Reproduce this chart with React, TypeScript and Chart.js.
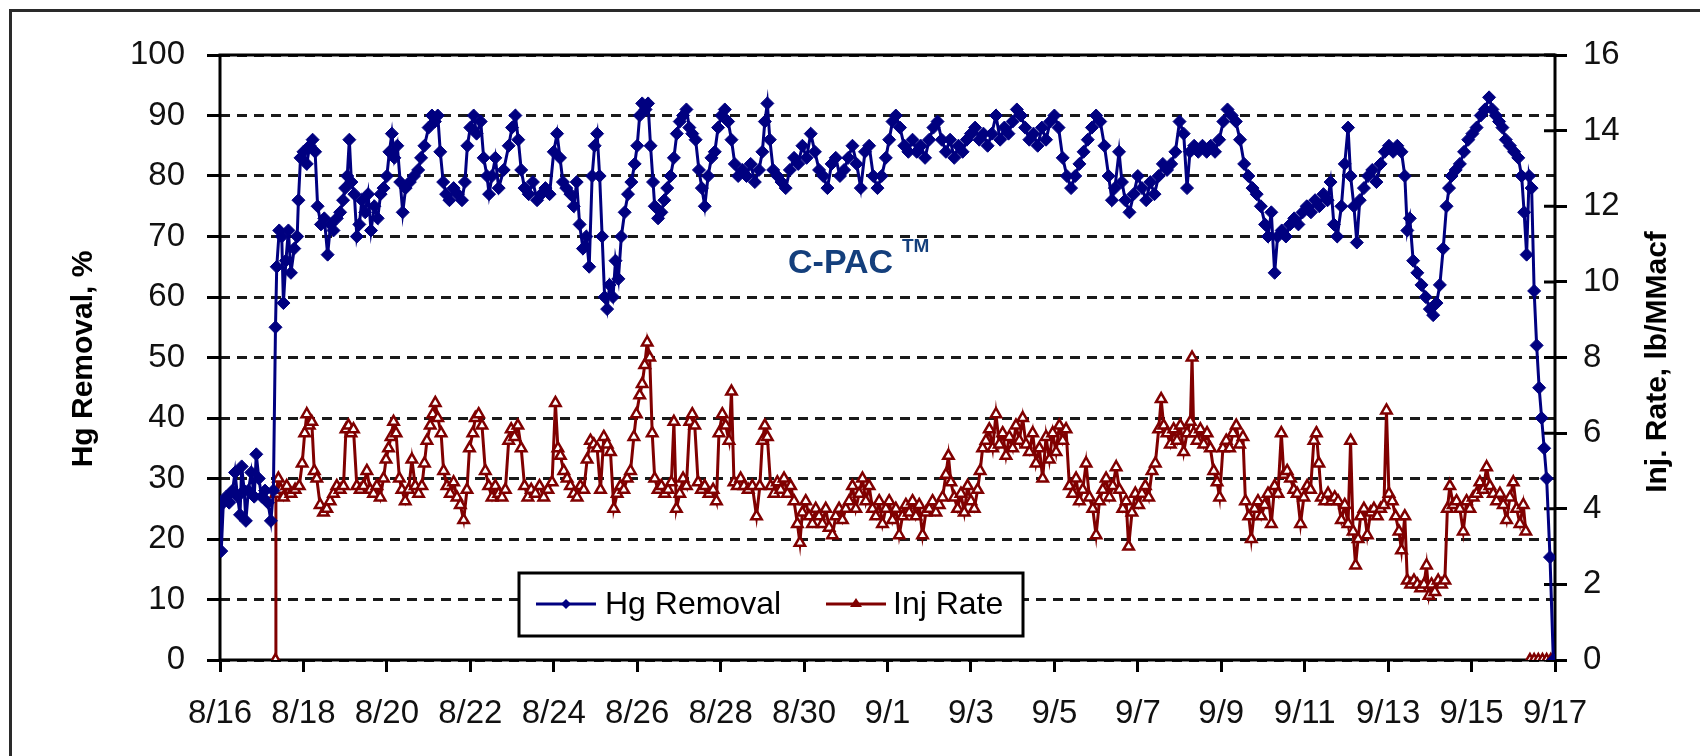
import React, { useEffect, useRef } from 'react';
import { Chart, registerables } from 'chart.js';

Chart.register(...registerables);

// x-axis tick labels (every 2 days from 8/16 to 9/17)
const dateLabels = ['8/16', '8/18', '8/20', '8/22', '8/24', '8/26', '8/28', '8/30', '9/1', '9/3', '9/5', '9/7', '9/9', '9/11', '9/13', '9/15', '9/17'];

// Hg Removal, % : [days since 8/16, value]
const hgRemoval: [number, number][] = [
  [0.00, 26], [0.03, 18], [0.08, 26], [0.15, 27], [0.22, 26], [0.30, 28], [0.36, 31], [0.42, 27], [0.48, 24], [0.52, 32],
  [0.58, 28], [0.62, 23], [0.68, 28], [0.75, 31], [0.82, 27], [0.87, 34], [0.93, 30], [1.00, 27], [1.08, 28], [1.15, 26],
  [1.22, 23], [1.28, 28], [1.33, 55], [1.36, 65], [1.42, 71], [1.48, 70], [1.52, 59], [1.58, 66], [1.64, 71], [1.70, 64],
  [1.78, 68], [1.85, 70], [1.88, 76], [1.93, 83], [2.00, 84], [2.08, 82], [2.15, 85], [2.22, 86], [2.28, 84], [2.34, 75],
  [2.42, 72], [2.50, 73], [2.58, 67], [2.65, 72], [2.72, 71], [2.80, 73], [2.88, 74], [2.95, 76], [3.00, 78], [3.05, 80],
  [3.10, 86], [3.15, 79], [3.22, 77], [3.28, 70], [3.34, 72], [3.40, 76], [3.48, 74], [3.55, 77], [3.62, 71], [3.70, 75],
  [3.78, 73], [3.85, 77], [3.92, 78], [4.00, 80], [4.06, 84], [4.12, 87], [4.18, 83], [4.25, 85], [4.32, 79], [4.38, 74],
  [4.45, 78], [4.55, 79], [4.65, 80], [4.75, 81], [4.82, 83], [4.90, 85], [5.00, 88], [5.08, 90], [5.15, 89], [5.22, 90],
  [5.28, 84], [5.35, 79], [5.42, 77], [5.50, 76], [5.60, 78], [5.70, 77], [5.80, 76], [5.87, 79], [5.93, 85], [6.00, 88],
  [6.08, 90], [6.15, 87], [6.25, 89], [6.32, 83], [6.40, 80], [6.45, 77], [6.52, 80], [6.60, 83], [6.68, 78], [6.80, 81],
  [6.92, 85], [7.00, 88], [7.08, 90], [7.15, 86], [7.22, 81], [7.30, 78], [7.40, 77], [7.50, 79], [7.60, 76], [7.70, 77],
  [7.80, 78], [7.90, 77], [8.00, 84], [8.08, 87], [8.15, 83], [8.22, 79], [8.30, 78], [8.40, 77], [8.48, 75], [8.55, 79],
  [8.62, 72], [8.70, 68], [8.78, 70], [8.85, 65], [8.92, 80], [8.98, 85], [9.04, 87], [9.10, 80], [9.16, 70], [9.22, 60],
  [9.28, 58], [9.34, 62], [9.42, 60], [9.48, 66], [9.55, 63], [9.62, 70], [9.70, 74], [9.78, 77], [9.86, 79], [9.94, 82],
  [10.00, 85], [10.06, 90], [10.12, 92], [10.20, 91], [10.26, 92], [10.32, 85], [10.38, 79], [10.42, 75], [10.50, 73], [10.58, 74],
  [10.65, 76], [10.72, 78], [10.80, 80], [10.88, 83], [10.95, 87], [11.02, 89], [11.10, 90], [11.18, 91], [11.25, 88], [11.32, 87],
  [11.40, 86], [11.48, 81], [11.55, 78], [11.62, 75], [11.70, 80], [11.78, 83], [11.86, 84], [11.94, 88], [12.02, 90], [12.10, 91],
  [12.18, 89], [12.26, 86], [12.34, 82], [12.42, 80], [12.52, 81], [12.62, 80], [12.72, 82], [12.82, 79], [12.92, 81], [13.00, 84],
  [13.06, 89], [13.12, 92], [13.18, 86], [13.26, 81], [13.36, 80], [13.46, 79], [13.56, 78], [13.66, 81], [13.76, 83], [13.86, 82],
  [13.96, 85], [14.06, 83], [14.16, 87], [14.26, 84], [14.36, 81], [14.46, 80], [14.56, 78], [14.66, 82], [14.76, 83], [14.86, 80],
  [14.96, 81], [15.06, 83], [15.16, 85], [15.26, 82], [15.36, 78], [15.46, 84], [15.56, 85], [15.66, 80], [15.76, 78], [15.86, 80],
  [15.96, 83], [16.04, 86], [16.12, 89], [16.20, 90], [16.30, 88], [16.40, 85], [16.50, 84], [16.60, 86], [16.70, 84], [16.80, 85],
  [16.90, 83], [17.00, 86], [17.10, 88], [17.20, 89], [17.30, 86], [17.40, 84], [17.50, 86], [17.60, 83], [17.70, 85], [17.80, 84],
  [17.90, 86], [18.00, 87], [18.10, 88], [18.20, 86], [18.30, 87], [18.40, 85], [18.50, 87], [18.60, 90], [18.70, 86], [18.80, 88],
  [18.90, 87], [19.00, 89], [19.10, 91], [19.20, 90], [19.30, 88], [19.40, 86], [19.50, 87], [19.60, 85], [19.70, 88], [19.80, 86],
  [19.90, 89], [20.00, 90], [20.10, 88], [20.20, 83], [20.30, 80], [20.40, 78], [20.50, 80], [20.60, 82], [20.70, 84], [20.80, 86],
  [20.90, 88], [21.00, 90], [21.10, 89], [21.20, 85], [21.30, 80], [21.38, 76], [21.45, 78], [21.55, 84], [21.62, 79], [21.70, 76],
  [21.80, 74], [21.90, 77], [22.00, 80], [22.10, 78], [22.20, 76], [22.30, 79], [22.40, 77], [22.50, 80], [22.60, 82], [22.70, 81],
  [22.80, 82], [22.90, 84], [23.00, 89], [23.10, 87], [23.18, 78], [23.25, 84], [23.35, 85], [23.45, 84], [23.55, 85], [23.65, 84],
  [23.75, 85], [23.85, 84], [23.95, 86], [24.05, 89], [24.15, 91], [24.25, 90], [24.35, 89], [24.45, 86], [24.55, 82], [24.65, 80],
  [24.75, 78], [24.85, 77], [24.95, 75], [25.05, 72], [25.12, 70], [25.20, 74], [25.28, 64], [25.35, 70], [25.45, 71], [25.55, 70],
  [25.65, 72], [25.75, 73], [25.85, 72], [25.95, 74], [26.05, 75], [26.15, 74], [26.25, 76], [26.35, 75], [26.45, 77], [26.55, 76],
  [26.62, 79], [26.70, 72], [26.78, 70], [26.88, 75], [26.96, 82], [27.04, 88], [27.10, 80], [27.18, 75], [27.25, 69], [27.32, 76],
  [27.42, 78], [27.52, 80], [27.62, 81], [27.72, 79], [27.82, 82], [27.92, 84], [28.02, 85], [28.12, 84], [28.22, 85], [28.32, 84],
  [28.40, 80], [28.46, 71], [28.52, 73], [28.60, 66], [28.70, 64], [28.80, 62], [28.90, 60], [29.00, 58], [29.08, 57], [29.16, 59],
  [29.24, 62], [29.32, 68], [29.40, 75], [29.46, 78], [29.52, 80], [29.62, 81], [29.72, 82], [29.82, 84], [29.92, 86], [30.02, 87],
  [30.12, 88], [30.22, 90], [30.32, 91], [30.42, 93], [30.50, 91], [30.58, 90], [30.66, 89], [30.74, 88], [30.82, 86], [30.92, 85],
  [31.02, 84], [31.12, 83], [31.20, 80], [31.26, 74], [31.32, 67], [31.38, 80], [31.44, 78], [31.50, 61], [31.56, 52], [31.62, 45],
  [31.68, 40], [31.74, 35], [31.80, 30], [31.88, 17], [31.96, 0],
];

// Inj Rate, lb/MMacf : [days since 8/16, value]
const injRate: [number, number | null][] = [
  [1.33, 0], [1.34, 4.4], [1.40, 4.8], [1.46, 4.5], [1.52, 4.3], [1.60, 4.6], [1.70, 4.4], [1.80, 4.5], [1.90, 4.6], [1.97, 5.2],
  [2.03, 6.0], [2.08, 6.5], [2.14, 6.2], [2.20, 6.3], [2.26, 5.0], [2.32, 4.8], [2.40, 4.1], [2.48, 3.9], [2.56, 4.0], [2.64, 4.2],
  [2.72, 4.4], [2.80, 4.6], [2.88, 4.5], [2.96, 4.6], [3.02, 6.1], [3.08, 6.2], [3.14, 6.0], [3.20, 6.1], [3.28, 4.6], [3.36, 4.5],
  [3.44, 4.6], [3.52, 5.0], [3.60, 4.5], [3.68, 4.4], [3.76, 4.6], [3.84, 4.3], [3.92, 4.8], [3.98, 5.3], [4.04, 5.6], [4.10, 5.9],
  [4.16, 6.3], [4.22, 6.0], [4.30, 4.8], [4.36, 4.5], [4.44, 4.2], [4.52, 4.5], [4.60, 5.3], [4.68, 4.6], [4.76, 4.4], [4.84, 4.6],
  [4.90, 5.2], [4.96, 5.8], [5.04, 6.2], [5.10, 6.5], [5.16, 6.8], [5.22, 6.4], [5.30, 6.0], [5.36, 5.0], [5.44, 4.6], [5.52, 4.4],
  [5.60, 4.7], [5.68, 4.3], [5.76, 4.1], [5.84, 3.7], [5.92, 4.5], [5.98, 5.6], [6.06, 6.0], [6.12, 6.4], [6.20, 6.5], [6.28, 6.2],
  [6.36, 5.0], [6.44, 4.6], [6.52, 4.3], [6.60, 4.6], [6.68, 4.4], [6.76, 4.3], [6.84, 4.5], [6.92, 5.8], [6.98, 6.1], [7.06, 5.9],
  [7.14, 6.2], [7.22, 5.6], [7.30, 4.6], [7.38, 4.3], [7.46, 4.5], [7.56, 4.4], [7.66, 4.6], [7.76, 4.3], [7.86, 4.5], [7.96, 4.7],
  [8.04, 6.8], [8.10, 5.6], [8.16, 5.4], [8.24, 5.0], [8.32, 4.8], [8.40, 4.6], [8.48, 4.4], [8.56, 4.3], [8.64, 4.6], [8.72, 4.5],
  [8.80, 5.3], [8.88, 5.8], [8.96, 5.7], [9.04, 5.6], [9.12, 4.5], [9.20, 5.9], [9.28, 5.7], [9.36, 5.5], [9.44, 4.0], [9.52, 4.4],
  [9.60, 4.6], [9.68, 4.5], [9.76, 4.8], [9.84, 5.0], [9.92, 5.9], [9.98, 6.5], [10.06, 7.0], [10.12, 7.3], [10.18, 7.8], [10.24, 8.4],
  [10.30, 8.0], [10.36, 6.0], [10.42, 4.8], [10.50, 4.5], [10.58, 4.6], [10.66, 4.4], [10.74, 4.5], [10.82, 4.7], [10.88, 6.3], [10.94, 4.0],
  [11.02, 4.4], [11.10, 4.8], [11.18, 4.6], [11.26, 6.3], [11.32, 6.5], [11.38, 6.2], [11.46, 4.7], [11.54, 4.5], [11.62, 4.6], [11.72, 4.4],
  [11.82, 4.5], [11.90, 4.2], [11.96, 6.0], [12.04, 6.5], [12.12, 6.2], [12.20, 5.8], [12.26, 7.1], [12.32, 4.7], [12.40, 4.6], [12.48, 4.8],
  [12.56, 4.6], [12.66, 4.5], [12.76, 4.6], [12.86, 3.8], [12.94, 4.6], [13.00, 5.8], [13.06, 6.2], [13.12, 5.9], [13.20, 4.6], [13.28, 4.4],
  [13.36, 4.7], [13.44, 4.5], [13.52, 4.8], [13.60, 4.4], [13.68, 4.6], [13.76, 4.2], [13.84, 3.6], [13.90, 3.1], [13.96, 3.9], [14.04, 4.2],
  [14.12, 3.8], [14.20, 3.6], [14.28, 4.0], [14.36, 3.8], [14.44, 3.6], [14.52, 4.0], [14.60, 3.5], [14.68, 3.3], [14.76, 3.8], [14.84, 4.0],
  [14.92, 3.7], [15.00, 4.0], [15.08, 4.2], [15.16, 4.6], [15.24, 4.0], [15.32, 4.4], [15.40, 4.8], [15.48, 4.2], [15.56, 4.6], [15.64, 4.0],
  [15.72, 3.8], [15.80, 4.2], [15.88, 3.6], [15.96, 4.0], [16.04, 4.2], [16.12, 3.7], [16.20, 4.0], [16.28, 3.3], [16.36, 3.8], [16.44, 4.1],
  [16.52, 3.9], [16.60, 4.2], [16.68, 3.8], [16.76, 4.1], [16.84, 3.3], [16.92, 3.9], [17.00, 4.0], [17.08, 4.2], [17.16, 3.9], [17.24, 4.1],
  [17.32, 4.3], [17.40, 4.9], [17.46, 5.4], [17.52, 4.7], [17.60, 4.3], [17.68, 4.0], [17.76, 4.4], [17.84, 3.9], [17.92, 4.6], [18.00, 4.2],
  [18.08, 4.0], [18.16, 4.5], [18.22, 5.0], [18.28, 5.6], [18.36, 5.8], [18.44, 6.1], [18.52, 5.6], [18.60, 6.5], [18.68, 5.7], [18.76, 6.0],
  [18.84, 5.4], [18.92, 5.9], [19.00, 5.6], [19.08, 6.2], [19.16, 5.8], [19.24, 6.4], [19.32, 5.7], [19.40, 5.5], [19.48, 6.0], [19.56, 5.2],
  [19.64, 5.6], [19.72, 4.8], [19.80, 5.9], [19.88, 5.3], [19.96, 6.0], [20.04, 5.5], [20.12, 6.2], [20.20, 5.8], [20.28, 6.1], [20.36, 4.6],
  [20.44, 4.4], [20.52, 4.8], [20.60, 4.2], [20.68, 4.5], [20.76, 5.2], [20.84, 4.3], [20.92, 4.0], [21.00, 3.3], [21.08, 4.2], [21.16, 4.5],
  [21.24, 4.8], [21.32, 4.3], [21.40, 4.6], [21.48, 5.1], [21.56, 4.5], [21.64, 4.0], [21.72, 4.2], [21.78, 3.0], [21.86, 3.9], [21.94, 4.4],
  [22.02, 4.1], [22.10, 4.4], [22.18, 4.6], [22.26, 4.3], [22.34, 5.0], [22.42, 5.2], [22.50, 6.1], [22.56, 6.9], [22.62, 6.2], [22.70, 6.0],
  [22.78, 5.7], [22.86, 6.1], [22.94, 5.8], [23.02, 6.2], [23.10, 5.5], [23.18, 6.0], [23.26, 6.3], [23.30, 8.0], [23.34, 6.0], [23.42, 5.8],
  [23.50, 6.1], [23.58, 5.7], [23.66, 6.0], [23.74, 5.6], [23.82, 5.0], [23.90, 4.7], [23.96, 4.3], [24.04, 5.6], [24.12, 5.8], [24.20, 5.6],
  [24.28, 6.0], [24.36, 6.2], [24.44, 5.7], [24.52, 5.9], [24.58, 4.2], [24.66, 3.8], [24.72, 3.2], [24.80, 4.0], [24.88, 4.2], [24.96, 3.8],
  [25.04, 4.1], [25.12, 4.4], [25.20, 3.6], [25.28, 4.6], [25.36, 4.4], [25.44, 6.0], [25.50, 4.9], [25.58, 5.0], [25.66, 4.8], [25.74, 4.5],
  [25.82, 4.4], [25.90, 3.6], [25.98, 4.3], [26.06, 4.6], [26.14, 4.5], [26.22, 5.8], [26.28, 6.0], [26.34, 5.2], [26.40, 4.3], [26.48, 4.2],
  [26.56, 4.4], [26.64, 4.2], [26.72, 4.3], [26.80, 4.2], [26.88, 3.7], [26.96, 4.1], [27.04, 3.6], [27.10, 5.8], [27.16, 3.4], [27.22, 2.5],
  [27.28, 3.2], [27.34, 3.8], [27.42, 4.0], [27.50, 3.3], [27.58, 3.9], [27.66, 4.0], [27.74, 3.8], [27.82, 4.0], [27.90, 4.1], [27.96, 6.6],
  [28.02, 4.4], [28.10, 4.2], [28.18, 3.8], [28.26, 3.4], [28.32, 2.9], [28.40, 3.8], [28.46, 2.1], [28.54, 2.0], [28.62, 2.1], [28.70, 2.0],
  [28.78, 1.9], [28.86, 2.0], [28.92, 2.5], [28.98, 1.7], [29.04, 2.0], [29.12, 1.8], [29.20, 2.1], [29.28, 2.0], [29.36, 2.1], [29.42, 4.0],
  [29.48, 4.6], [29.56, 4.1], [29.64, 4.2], [29.72, 4.0], [29.80, 3.4], [29.88, 4.2], [29.96, 4.0], [30.04, 4.3], [30.12, 4.4], [30.20, 4.7],
  [30.28, 4.5], [30.36, 5.1], [30.44, 4.6], [30.52, 4.4], [30.60, 4.2], [30.68, 4.4], [30.76, 4.1], [30.84, 3.7], [30.92, 4.3], [31.00, 4.7],
  [31.08, 4.0], [31.16, 3.6], [31.24, 4.1], [31.30, 3.4], [31.34, null], [31.40, 0], [31.50, 0], [31.60, 0], [31.70, 0], [31.80, 0],
  [31.90, 0],
];

const FONT = '"Liberation Sans", Arial, Helvetica, sans-serif';
const HG_COLOR = '#000080';
const INJ_COLOR = '#800000';

export default function App() {
  const canvasRef = useRef<HTMLCanvasElement | null>(null);

  useEffect(() => {
    document.body.style.margin = '0';
    const canvas = canvasRef.current;
    if (!canvas) return;

    const decor = {
      id: 'decor',
      beforeDatasetsDraw(chart: any) {
        const { ctx, chartArea } = chart;
        const { left, top, right, bottom } = chartArea;
        ctx.save();
        ctx.setLineDash([]);
        ctx.strokeStyle = '#000';
        ctx.lineWidth = 3;
        ctx.strokeRect(left, top, right - left, bottom - top);
        // inward part of the right-axis cross ticks
        const y1 = chart.scales.y1;
        ctx.beginPath();
        for (let v = 0; v <= 16; v += 2) {
          const y = y1.getPixelForValue(v);
          ctx.moveTo(right - 11, y);
          ctx.lineTo(right, y);
        }
        ctx.stroke();
        ctx.restore();
      },
      afterDraw(chart: any) {
        const { ctx } = chart;
        ctx.save();
        ctx.setLineDash([]);
        // outer frame (left and top edges visible)
        ctx.strokeStyle = '#2a2a2a';
        ctx.lineWidth = 3;
        ctx.beginPath();
        ctx.moveTo(10.5, 756);
        ctx.lineTo(10.5, 10.5);
        ctx.lineTo(1700, 10.5);
        ctx.stroke();

        // axis titles
        ctx.fillStyle = '#000';
        ctx.font = `bold 30px ${FONT}`;
        ctx.textAlign = 'center';
        ctx.textBaseline = 'middle';
        ctx.save();
        ctx.translate(84, 359);
        ctx.rotate(-Math.PI / 2);
        ctx.fillText('Hg Removal, %', 0, 0);
        ctx.restore();
        ctx.save();
        ctx.translate(1658, 362);
        ctx.rotate(-Math.PI / 2);
        ctx.fillText('Inj. Rate, lb/MMacf', 0, 0);
        ctx.restore();

        // annotation
        ctx.fillStyle = '#143f7c';
        ctx.textAlign = 'left';
        ctx.textBaseline = 'alphabetic';
        ctx.font = `bold 34px ${FONT}`;
        ctx.fillText('C-PAC', 788, 273);
        ctx.font = `bold 19px ${FONT}`;
        ctx.fillText('TM', 902, 252);

        // legend
        const lx = 519, ly = 573, lw = 504, lh = 63;
        ctx.fillStyle = '#fff';
        ctx.fillRect(lx, ly, lw, lh);
        ctx.strokeStyle = '#000';
        ctx.lineWidth = 3;
        ctx.strokeRect(lx, ly, lw, lh);
        const cy = 604;
        // Hg sample
        ctx.strokeStyle = HG_COLOR;
        ctx.lineWidth = 3;
        ctx.beginPath();
        ctx.moveTo(536, cy);
        ctx.lineTo(596, cy);
        ctx.stroke();
        ctx.fillStyle = HG_COLOR;
        ctx.beginPath();
        ctx.moveTo(566, cy - 5);
        ctx.lineTo(571, cy);
        ctx.lineTo(566, cy + 5);
        ctx.lineTo(561, cy);
        ctx.closePath();
        ctx.fill();
        // Inj sample
        ctx.strokeStyle = INJ_COLOR;
        ctx.beginPath();
        ctx.moveTo(826, cy);
        ctx.lineTo(886, cy);
        ctx.stroke();
        ctx.fillStyle = INJ_COLOR;
        ctx.beginPath();
        ctx.moveTo(856, cy - 6);
        ctx.lineTo(862, cy + 3);
        ctx.lineTo(850, cy + 3);
        ctx.closePath();
        ctx.fill();
        // legend text
        ctx.fillStyle = '#000';
        ctx.font = `32px ${FONT}`;
        ctx.textBaseline = 'middle';
        ctx.fillText('Hg Removal', 605, cy + 1);
        ctx.fillText('Inj Rate', 893, cy + 1);
        ctx.restore();
      },
    };

    const chart = new Chart(canvas, {
      type: 'line',
      data: {
        datasets: [
          {
            label: 'Hg Removal',
            data: hgRemoval.map(([x, y]) => ({ x, y })),
            yAxisID: 'y',
            borderColor: HG_COLOR,
            backgroundColor: HG_COLOR,
            borderWidth: 3,
            pointStyle: 'rectRot',
            pointRadius: 6.5,
            pointBackgroundColor: HG_COLOR,
            pointBorderColor: HG_COLOR,
            pointBorderWidth: 1,
            tension: 0,
            fill: false,
          },
          {
            label: 'Inj Rate',
            data: injRate.map(([x, y]) => ({ x, y })),
            yAxisID: 'y1',
            borderColor: INJ_COLOR,
            backgroundColor: INJ_COLOR,
            borderWidth: 3,
            pointStyle: 'triangle',
            pointRadius: 6,
            pointBackgroundColor: '#ffffff',
            pointBorderColor: INJ_COLOR,
            pointBorderWidth: 2.5,
            tension: 0,
            spanGaps: false,
            fill: false,
          },
        ],
      },
      options: {
        responsive: false,
        animation: false,
        events: [],
        layout: { padding: { top: 55, left: 0, right: 0, bottom: 0 } },
        plugins: {
          legend: { display: false },
          tooltip: { enabled: false },
          title: { display: false },
        },
        scales: {
          x: {
            type: 'linear',
            position: 'bottom',
            min: 0,
            max: 32,
            afterFit: (s: any) => { s.height = 96; },
            ticks: {
              stepSize: 2,
              autoSkip: false,
              maxRotation: 0,
              minRotation: 0,
              padding: 22,
              color: '#111',
              font: { family: FONT, size: 33 },
              callback: (v: any) => dateLabels[Math.round(Number(v) / 2)] ?? '',
            },
            grid: {
              drawOnChartArea: false,
              drawTicks: true,
              tickLength: 12,
              tickWidth: 3,
              tickColor: '#000',
            },
            border: { display: false },
          },
          y: {
            position: 'left',
            min: 0,
            max: 100,
            afterFit: (s: any) => { s.width = 220; },
            ticks: {
              stepSize: 10,
              padding: 22,
              color: '#111',
              font: { family: FONT, size: 33 },
            },
            grid: {
              color: '#1a1a1a',
              lineWidth: 3,
              drawTicks: true,
              tickLength: 13,
              tickWidth: 3,
              tickColor: '#000',
              tickBorderDash: [],
            },
            border: { display: false, dash: [10, 7] },
          },
          y1: {
            position: 'right',
            min: 0,
            max: 16,
            afterFit: (s: any) => { s.width = 145; },
            ticks: {
              stepSize: 2,
              padding: 16,
              color: '#111',
              font: { family: FONT, size: 33 },
            },
            grid: {
              drawOnChartArea: false,
              drawTicks: true,
              tickLength: 12,
              tickWidth: 3,
              tickColor: '#000',
            },
            border: { display: false },
          },
        },
      },
      plugins: [decor],
    } as any);

    return () => chart.destroy();
  }, []);

  return (
    <div style={{ position: 'fixed', left: 0, top: 0, width: 1700, height: 756, background: '#fff' }}>
      <canvas ref={canvasRef} width={1700} height={756} style={{ width: 1700, height: 756, display: 'block' }} />
    </div>
  );
}
